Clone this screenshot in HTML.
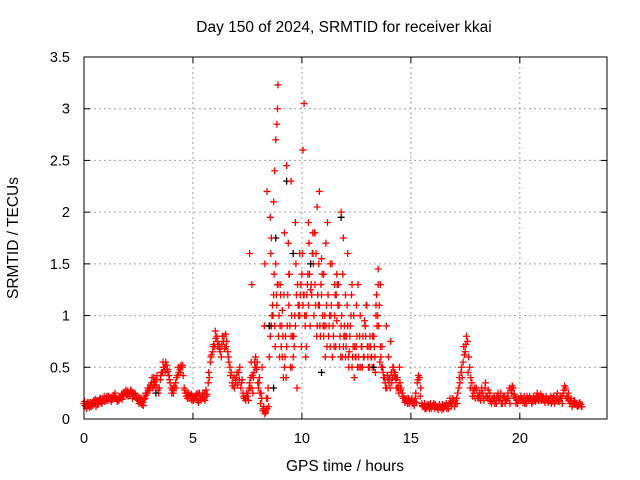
<!DOCTYPE html>
<html><head><meta charset="utf-8"><style>
body{margin:0;background:#fff;}
svg{display:block;font-family:"Liberation Sans",sans-serif;}
</style></head><body>
<svg id="chart" width="640" height="480" viewBox="0 0 640 480">
<text x="344" y="32" font-size="15.5" text-anchor="middle">Day 150 of 2024, SRMTID for receiver kkai</text>
<text x="345" y="471" font-size="15.5" text-anchor="middle">GPS time / hours</text>
<text x="18" y="238" font-size="15.5" text-anchor="middle" transform="rotate(-90 18 238)">SRMTID / TECUs</text>
<g id="grid"></g>
<g id="marks"></g>
<rect x="84" y="57" width="523" height="362" fill="none" stroke="#000" stroke-width="1"></rect>
<g id="axes"></g>
</svg>
<script>
const xTicks=[0,5,10,15,20];
const yTicks=[0,0.5,1,1.5,2,2.5,3,3.5];
const yTickLabels=["0","0.5","1","1.5","2","2.5","3","3.5"];
const seriesStart=0, seriesStep=0.1;
const seriesA=[0.15,0.12,0.14,0.16,0.13,0.15,0.18,0.17,0.16,0.19,
0.2,0.18,0.21,0.19,0.22,0.2,0.18,0.21,0.24,0.25,
0.27,0.24,0.26,0.22,0.2,0.18,0.17,0.16,0.2,0.25,
0.3,0.35,0.4,0.33,0.28,0.38,0.45,0.5,0.52,0.42,
0.3,0.25,0.35,0.42,0.48,0.5,0.3,0.22,0.25,0.2,
0.22,0.2,0.18,0.25,0.22,0.2,0.28,0.35,0.55,0.65,
0.7,0.8,0.72,0.6,0.75,0.82,0.65,0.5,0.35,0.3,
0.4,0.45,0.3,0.25,0.2,0.22,0.35,0.3,0.45,0.5,
0.3,0.15,0.08,0.05,0.1,0.6,0.9,1.2,1.5,1.3,
0.9,0.6,0.5,0.7,1.1,0.8,0.6,0.9,1.3,1.6,
1.4,1.2,1.0,1.1,1.5,1.8,1.3,0.9,1.1,1.2,
0.8,0.9,1.2,0.7,0.6,1.0,1.4,1.1,0.9,0.7,
0.6,0.9,0.8,0.5,0.4,0.7,0.6,0.5,0.8,0.9,
0.7,0.5,0.6,0.8,1.0,1.3,0.7,0.5,0.4,0.3,
0.35,0.45,0.5,0.4,0.3,0.35,0.25,0.2,0.18,0.2,
0.17,0.15,0.2,0.35,0.4,0.15,0.12,0.1,0.12,0.15,
0.13,0.1,0.12,0.14,0.11,0.1,0.13,0.12,0.2,0.15,
0.12,0.2,0.3,0.45,0.55,0.65,0.75,0.5,0.35,0.25,
0.3,0.2,0.18,0.25,0.3,0.22,0.2,0.15,0.2,0.18,
0.25,0.2,0.15,0.22,0.18,0.2,0.28,0.3,0.2,0.15,
0.18,0.2,0.22,0.15,0.18,0.2,0.17,0.19,0.25,0.2,
0.18,0.2,0.22,0.16,0.18,0.2,0.15,0.22,0.17,0.2,
0.25,0.3,0.2,0.15,0.12,0.18,0.15,0.13,0.14];
const seriesB=[0.13,0.16,0.11,0.14,0.18,0.12,0.15,0.2,0.19,0.17,
0.22,0.2,0.17,0.23,0.2,0.18,0.22,0.19,0.26,0.23,
0.25,0.28,0.22,0.24,0.19,0.21,0.14,0.19,0.23,0.28,
0.33,0.3,0.36,0.42,0.3,0.45,0.5,0.55,0.46,0.35,
0.28,0.3,0.4,0.45,0.52,0.42,0.25,0.2,0.23,0.18,
0.2,0.24,0.16,0.2,0.25,0.18,0.24,0.4,0.62,0.72,
0.78,0.7,0.65,0.8,0.68,0.75,0.55,0.45,0.4,0.35,
0.33,0.5,0.38,0.2,0.25,0.18,0.4,0.25,0.5,0.55,
0.4,0.2,0.12,0.08,0.3,0.8,1.1,0.9,1.1,1.0,
0.7,0.4,0.8,1.2,0.9,0.5,0.7,1.2,1.0,1.3,
1.1,0.9,1.3,1.4,1.2,1.0,1.6,1.1,0.8,1.0,
1.0,0.7,0.9,1.1,0.8,0.7,1.1,0.8,0.6,0.9,
0.8,0.5,1.0,0.7,0.6,0.5,0.8,0.7,0.6,1.1,
0.5,0.7,0.8,0.6,0.9,1.1,0.5,0.4,0.3,0.38,
0.3,0.4,0.42,0.3,0.25,0.3,0.2,0.18,0.15,0.17,
0.2,0.13,0.16,0.42,0.3,0.12,0.1,0.14,0.1,0.12,
0.15,0.12,0.09,0.11,0.14,0.13,0.1,0.15,0.12,0.18,
0.15,0.25,0.35,0.4,0.62,0.8,0.6,0.4,0.28,0.2,
0.22,0.25,0.3,0.18,0.22,0.28,0.17,0.2,0.15,0.22,
0.2,0.15,0.22,0.18,0.25,0.15,0.32,0.24,0.18,0.2,
0.22,0.16,0.18,0.2,0.22,0.15,0.2,0.22,0.18,0.24,
0.2,0.16,0.18,0.2,0.15,0.22,0.18,0.17,0.22,0.15,
0.32,0.22,0.18,0.2,0.15,0.14,0.12,0.16,0.12];
const seriesC=[0.17,0.1,0.16,0.12,0.15,0.19,0.14,0.2,0.15,0.22,
0.18,0.22,0.19,0.2,0.25,0.17,0.2,0.24,0.22,0.28,
0.22,0.27,0.2,0.25,0.22,0.15,0.2,0.13,0.25,0.3,
0.28,0.4,0.32,0.38,0.25,0.42,0.55,0.45,0.48,0.38,
0.25,0.32,0.3,0.5,0.45,0.52,0.28,0.25,0.2,0.24,
0.18,0.22,0.25,0.18,0.2,0.24,0.22,0.45,0.6,0.7,
0.85,0.75,0.68,0.72,0.8,0.7,0.6,0.42,0.32,0.4,
0.45,0.38,0.35,0.22,0.18,0.25,0.3,0.42,0.55,0.48,
0.35,0.25,0.1,0.06,0.2,0.9,1.0,1.4,1.2,0.8,
1.2,0.8,0.6,0.9,1.4,1.0,0.8,1.5,1.1,1.2,
1.6,1.0,1.2,1.7,1.3,1.5,1.1,1.2,0.9,1.4,
0.9,1.1,0.8,1.0,0.9,1.2,1.3,0.7,1.0,0.8,
0.7,0.6,0.9,0.6,0.7,0.8,0.5,0.7,0.6,0.8,
0.6,0.8,0.5,0.7,1.2,0.9,0.6,0.45,0.35,0.42,
0.4,0.35,0.45,0.38,0.32,0.28,0.22,0.16,0.2,0.15,
0.18,0.16,0.25,0.38,0.22,0.13,0.15,0.12,0.14,0.1,
0.12,0.14,0.11,0.13,0.09,0.12,0.15,0.1,0.16,0.2,
0.18,0.15,0.4,0.5,0.7,0.72,0.45,0.3,0.22,0.3,
0.28,0.22,0.25,0.2,0.35,0.2,0.25,0.18,0.22,0.15,
0.18,0.25,0.2,0.15,0.2,0.3,0.25,0.22,0.15,0.18,
0.2,0.18,0.15,0.22,0.2,0.18,0.22,0.17,0.2,0.18,
0.22,0.18,0.2,0.18,0.22,0.17,0.2,0.25,0.18,0.22,
0.28,0.2,0.25,0.18,0.14,0.16,0.13,0.15,0.12];
const denseStart=7.5, denseStep=0.1;
const seriesD=[0.3,0.55,0.4,0.6,0.35,0.25,0.5,0.9,0.2,0.12,
1.6,1.0,0.7,1.3,0.6,0.9,1.2,0.4,1.7,0.5,
0.8,1.0,0.3,1.1,0.7,1.2,0.6,1.4,0.9,1.6,
1.8,0.8,1.5,1.3,0.9,0.6,1.9,1.0,1.5,0.7,
1.2,1.3,0.6,1.4,0.8,1.1,0.65,1.2,1.0,0.6,
1.3,1.0,0.5,0.95,1.1,0.7,0.6,0.8,0.45,1.0,
0.55,0.7,0.4,0.9,0.6,0.75,0.5,0.45,0.4,0.5];
const spikeTimes=[8.9,8.88,8.85,8.8,8.75,8.7,10.1,10.05,9.3,9.5,8.4,8.55,10.8,10.7,10.6,11.8,11.9,12.1,9.7,10.3,10.5,13.5,13.6,8.3,7.6,7.7,9.2,9.4,11.3,11.5,12.5,12.9,10.9,11.1,9.9,10.2,12.3,8.6,9.0,9.1,10.4,11.0,11.6,12.0,13.4];
const spikeValues=[3.23,3.0,2.85,2.7,2.4,2.1,3.05,2.6,2.45,2.3,2.2,1.95,2.2,2.05,1.8,2.0,1.75,1.6,1.9,1.9,1.6,1.45,1.3,1.5,1.6,1.3,1.8,1.4,1.5,1.3,1.1,0.9,1.55,1.7,1.0,0.7,1.3,1.75,1.3,1.05,1.25,1.4,0.95,1.2,1.1];
const blackTimes=[8.8,9.3,8.5,11.8,10.4,13.3,3.3,8.7,9.6,10.9];
const blackValues=[1.75,2.3,0.9,1.95,1.5,0.5,0.25,0.3,1.6,0.45];

const X0=84,X1=607,Y0=419,Y1=57,XMAX=24,YMAX=3.5;
const xs=t=>X0+(X1-X0)*t/XMAX;
const ys=v=>Y0-(Y0-Y1)*v/YMAX;
const NS="http://www.w3.org/2000/svg";
const grid=document.getElementById('grid'),axes=document.getElementById('axes'),marks=document.getElementById('marks');
function mk(tag,attrs,parent){const e=document.createElementNS(NS,tag);for(const k in attrs)e.setAttribute(k,attrs[k]);parent.appendChild(e);return e;}
xTicks.forEach(t=>{
  const x=xs(t);
  if(t>0){const g=mk('line',{x1:x,x2:x,y1:Y1,y2:Y0,stroke:'#a0a0a0','stroke-dasharray':'2,3'},grid);
  
  }
  mk('line',{x1:x,x2:x,y1:Y0,y2:Y0-6,stroke:'#000'},axes);
  mk('line',{x1:x,x2:x,y1:Y1,y2:Y1+6,stroke:'#000'},axes);
  const l=mk('text',{x:x,y:Y0+24,'font-size':14.5,'text-anchor':'middle'},axes);l.textContent=t;
  
  
});
yTicks.forEach((v,i)=>{
  const y=ys(v);
  if(v>0&&v<YMAX){const g=mk('line',{x1:X0,x2:X1,y1:y,y2:y,stroke:'#a0a0a0','stroke-dasharray':'2,3'},grid);
  
  }
  mk('line',{x1:X0,x2:X0+6,y1:y,y2:y,stroke:'#000'},axes);
  mk('line',{x1:X1,x2:X1-6,y1:y,y2:y,stroke:'#000'},axes);
  const l=mk('text',{x:X0-14,y:y+5,'font-size':14.5,'text-anchor':'end'},axes);l.textContent=yTickLabels[i];
  
  
});
function plus(t,v,color){
  const x=xs(t),y=ys(v);
  const p=mk('path',{d:`M${x-3.5},${y}h7M${x},${y-3.5}v7`,stroke:color,'stroke-width':1.3,fill:'none'},marks);
  
  
}
seriesA.forEach((v,i)=>plus(seriesStart+i*seriesStep,v,'#f00'));
seriesB.forEach((v,i)=>plus(seriesStart+i*seriesStep+0.05,v,'#f00'));
seriesC.forEach((v,i)=>plus(seriesStart+i*seriesStep+0.025,v,'#f00'));
seriesD.forEach((v,i)=>plus(denseStart+i*denseStep+0.075,v,'#f00'));
blackTimes.forEach((t,i)=>plus(t,blackValues[i],'#000'));
spikeTimes.forEach((t,i)=>plus(t,spikeValues[i],'#f00'));
</script>
</body></html>
